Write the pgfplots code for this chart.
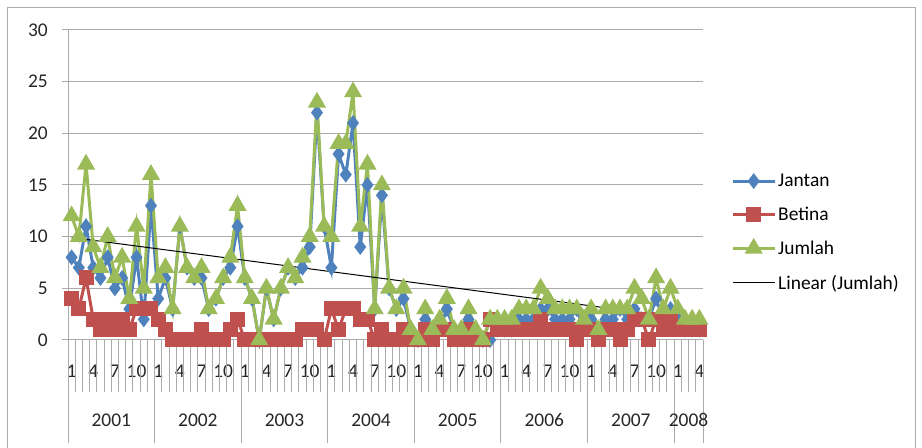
\documentclass[border=0pt]{standalone}
\usepackage{fontspec}
\setmainfont{Carlito}
\usepackage{pgfplots}
\usepackage{pgfplotstable}
\pgfplotsset{compat=1.18}

\definecolor{janblue}{HTML}{4F81BD}
\definecolor{betred}{HTML}{C0504D}
\definecolor{jumgreen}{HTML}{9BBB59}
\definecolor{gridgray}{HTML}{ABABAB}

% monthly counts, Jan 2001 - Apr 2008 (x = month index)
\pgfplotstableread{
x J B T
0 8 4 12
1 7 3 10
2 11 6 17
3 7 2 9
4 6 1 7
5 8 2 10
6 5 1 6
7 6 2 8
8 3 1 4
9 8 3 11
10 2 3 5
11 13 3 16
12 4 2 6
13 6 1 7
14 3 0 3
15 11 0 11
16 7 0 7
17 6 0 6
18 6 1 7
19 3 0 3
20 4 0 4
21 6 0 6
22 7 1 8
23 11 2 13
24 6 0 6
25 4 0 4
26 0 0 0
27 5 0 5
28 2 0 2
29 5 0 5
30 7 0 7
31 6 0 6
32 7 1 8
33 9 1 10
34 22 1 23
35 11 0 11
36 7 3 10
37 18 1 19
38 16 3 19
39 21 3 24
40 9 2 11
41 15 2 17
42 3 0 3
43 14 1 15
44 5 0 5
45 3 0 3
46 4 1 5
47 1 0 1
48 0 0 0
49 2 1 3
50 1 0 1
51 1 1 2
52 3 1 4
53 1 0 1
54 1 0 1
55 2 1 3
56 1 0 1
57 0 0 0
58 0 2 2
59 1 1 2
60 1 1 2
61 1 1 2
62 2 1 3
63 2 1 3
64 2 1 3
65 3 2 5
66 3 1 4
67 2 1 3
68 2 1 3
69 2 1 3
70 3 0 3
71 1 1 2
72 2 1 3
73 1 0 1
74 2 1 3
75 2 1 3
76 3 0 3
77 2 1 3
78 3 2 5
79 2 2 4
80 2 0 2
81 4 2 6
82 2 1 3
83 3 2 5
84 2 1 3
85 1 1 2
86 1 1 2
87 1 1 2
}\populasi

\begin{document}
\begin{tikzpicture}[x=1bp,y=1bp]
\path[use as bounding box] (0,0) rectangle (922,448);
% chart frame
\draw[gridgray, line width=1bp] (7.5,0) -- (7.5,440.5) -- (915.5,440.5) -- (915.5,0);
\begin{axis}[
  at={(68bp,108bp)}, anchor=south west,
  scale only axis, width=635bp, height=310bp,
  xmin=-0.5, xmax=87.5, ymin=0, ymax=30,
  axis x line*=bottom, axis y line*=left,
  axis line style={gridgray, line width=1bp},
  ytick={0,5,...,30},
  ymajorgrids, grid style={gridgray, line width=1bp},
  tick align=outside, major tick length=6bp,
  ytick style={gridgray, line width=1bp},
  xtick={0,3,...,87},
  xticklabels={1,4,7,10,1,4,7,10,1,4,7,10,1,4,7,10,1,4,7,10,1,4,7,10,1,4,7,10,1,4},
  xtick style={draw=none},
  tick label style={font=\fontsize{19.5}{23}\selectfont, text=black!85},
  /pgf/number format/assume math mode=true,
  yticklabel style={anchor=east, inner sep=0pt, xshift=-14bp},
  xticklabel style={anchor=base, inner sep=0pt, yshift=-32bp},
  clip=false,
  legend cell align=left,
  legend style={draw=none, fill=none, at={(1.0394,0.5487)}, anchor=north west,
    font=\fontsize{19.5}{23}\selectfont, row sep=15bp,
    /tikz/every odd column/.append style={column sep=0bp}},
  legend image code/.code={\draw[mark repeat=2, mark phase=2]
    plot coordinates {(0bp,0bp) (21bp,0bp) (42bp,0bp)};},
]
% month boundary ticks and year separators
\pgfplotsinvokeforeach{0,...,88}{
  \draw[gridgray, line width=1bp] (axis cs:#1-0.5,0) -- ++(0bp,-52bp);
}
\pgfplotsinvokeforeach{0,12,24,36,48,60,72,84,88}{
  \draw[gridgray, line width=1bp] (axis cs:#1-0.5,0) -- ++(0bp,-103bp);
}
\foreach \c/\yr in {5.5/2001,17.5/2002,29.5/2003,41.5/2004,53.5/2005,65.5/2006,77.5/2007,85.5/2008}{
  \edef\tmp{\noexpand\node[anchor=base, inner sep=0pt, text=black!85, font=\noexpand\fontsize{19.5}{23}\noexpand\selectfont]
    at (axis cs:\c,0) [yshift=-87bp] {\yr};}\tmp
}
\addplot[janblue, line width=3bp, mark=diamond*, mark size=5.5bp, mark options={solid}]
  table[x=x, y=J] {\populasi};
\addlegendentry{Jantan}
\addplot[betred, line width=3bp, mark=square*, mark size=6bp, mark options={solid}]
  table[x=x, y=B] {\populasi};
\addlegendentry{Betina}
\addplot[jumgreen, line width=3bp, mark=triangle*, mark size=7.5bp, mark options={solid}]
  table[x=x, y=T] {\populasi};
\addlegendentry{Jumlah}
\addplot[black, line width=1bp, no marks]
  table[x=x, y={create col/linear regression={y=T}}] {\populasi};
\addlegendentry{Linear (Jumlah)}
\end{axis}
\end{tikzpicture}
\end{document}
